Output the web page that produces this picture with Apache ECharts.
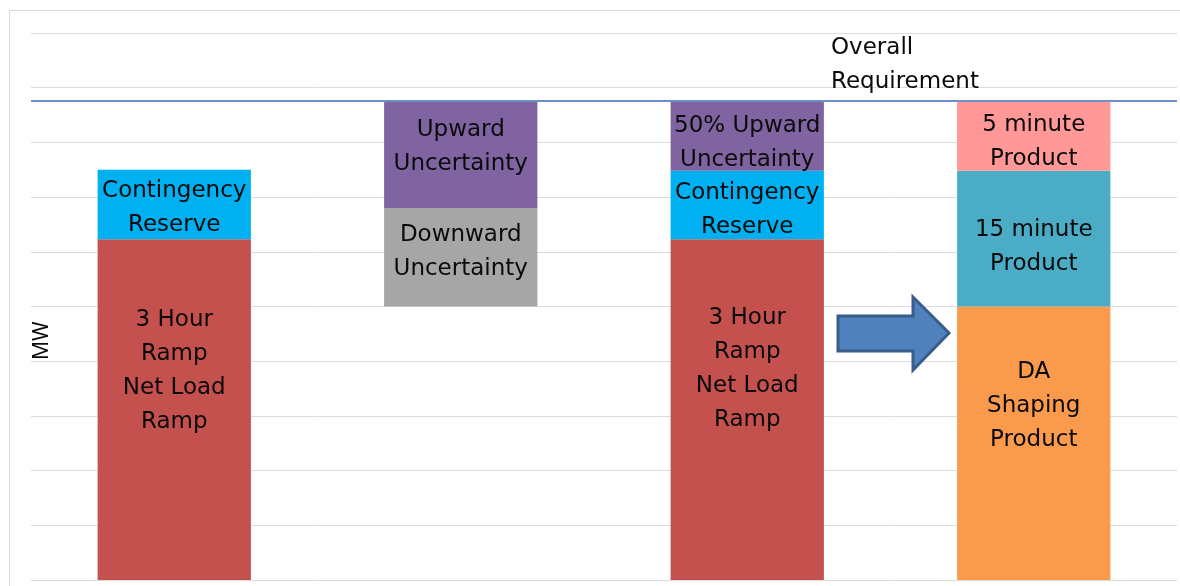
<!DOCTYPE html>
<html>
<head>
<meta charset="utf-8">
<script src="https://cdn.jsdelivr.net/npm/echarts@6/dist/echarts.min.js"></script>
<style>
  html, body { margin: 0; padding: 0; background: #fff; }
  #chart { width: 1180px; height: 586px; }
</style>
</head>
<body>
<div id="chart"></div>
<script>
// columns of the reserve build-up
const categories = ['Ramp + Contingency', 'Uncertainty', 'Requirement', 'Products'];

const baseValues        = [0, 5.0, 0, 0];          // hidden offset
const rampValues        = [6.23, null, 6.23, null];
const daShapingValues   = [null, null, null, 5.0];
const downwardValues    = [null, 1.8, null, null];
const contingencyValues = [1.27, null, 1.25, null];
const fifteenMinValues  = [null, null, null, 2.48];
const upwardValues      = [null, 1.96, 1.28, null];
const fiveMinValues     = [null, null, null, 1.28];

const overallRequirement = 8.76;

const rampLabels        = ['3 Hour\nRamp\nNet Load\nRamp', '', '3 Hour\nRamp\nNet Load\nRamp', ''];
const daShapingLabels   = ['', '', '', 'DA\nShaping\nProduct'];
const downwardLabels    = ['', 'Downward\nUncertainty', '', ''];
const contingencyLabels = ['Contingency\nReserve', '', 'Contingency\nReserve', ''];
const fifteenMinLabels  = ['', '', '', '15 minute\nProduct'];
const upwardLabels      = ['', 'Upward\nUncertainty', '50% Upward\nUncertainty', ''];
const fiveMinLabels     = ['', '', '', '5 minute\nProduct'];

const chart = echarts.init(document.getElementById('chart'));
const FONT = 'DejaVu Sans';
const TEXT = '#0a0a0a';

// offsetY: one vertical label nudge per column
function seg(name, values, labels, color, offsetY) {
  return {
    name: name,
    type: 'bar',
    stack: 'total',
    barWidth: '53.5%',
    data: values.map((v, i) => ({
      value: v,
      label: { offset: [0, offsetY[i] || 0] }
    })),
    itemStyle: { color: color },
    label: {
      show: true,
      position: 'inside',
      color: TEXT,
      fontFamily: FONT,
      fontSize: 23,
      lineHeight: 34,
      formatter: p => labels[p.dataIndex]
    }
  };
}

const option = {
  animation: false,
  grid: { left: 31, right: 3, top: 33, bottom: 6, containLabel: false, outerBoundsMode: 'none' },
  xAxis: {
    type: 'category',
    data: categories,
    axisLine: { show: false },
    axisTick: { show: false },
    axisLabel: { show: false }
  },
  yAxis: {
    type: 'value',
    min: 0,
    max: 10,
    interval: 1,
    axisLabel: { show: false },
    axisLine: { show: false },
    axisTick: { show: false },
    splitLine: { lineStyle: { color: '#dcdcdc', width: 1 } }
  },
  series: [
    {
      name: 'base', type: 'bar', stack: 'total', barWidth: '53.5%',
      data: baseValues, itemStyle: { color: 'transparent' }, silent: true
    },
    seg('3 Hour Ramp', rampValues, rampLabels, '#C4514D', [-39, 0, -41, 0]),
    seg('DA Shaping Product', daShapingValues, daShapingLabels, '#F99A4C', [0, 0, 0, -37]),
    seg('Downward Uncertainty', downwardValues, downwardLabels, '#A6A6A6', [0, -5, 0, 0]),
    seg('Contingency Reserve', contingencyValues, contingencyLabels, '#00B0F0', [4, 0, 5, 0]),
    seg('15 minute Product', fifteenMinValues, fifteenMinLabels, '#4BACC6', [0, 0, 0, 8]),
    Object.assign(seg('Upward Uncertainty', upwardValues, upwardLabels, '#8064A2', [0, -7, 7, 0]), {
      markLine: {
        silent: true,
        symbol: 'none',
        label: { show: false },
        lineStyle: { color: '#6F8FC8', width: 2, type: 'solid' },
        data: [{ yAxis: overallRequirement }]
      }
    }),
    seg('5 minute Product', fiveMinValues, fiveMinLabels, '#FF9896', [0, 0, 0, 6])
  ],
  graphic: [
    {
      type: 'rect',
      silent: true,
      z: 1,
      shape: { x: 9.5, y: 10.5, width: 1200, height: 600 },
      style: { fill: 'none', stroke: '#d9d9d9', lineWidth: 1 }
    },
    {
      type: 'text',
      z: 100,
      x: 53,
      y: 360,
      rotation: Math.PI / 2,
      style: {
        text: 'MW',
        fontFamily: 'Noto Sans',
        fontSize: 21,
        fill: TEXT,
        align: 'left',
        verticalAlign: 'bottom'
      }
    },
    {
      type: 'text',
      z: 100,
      x: 831,
      y: 31,
      style: {
        text: 'Overall\nRequirement',
        fontFamily: FONT,
        fontSize: 23,
        lineHeight: 34,
        fill: TEXT
      }
    },
    {
      type: 'polygon',
      silent: true,
      z: 100,
      shape: {
        points: [[838, 316], [913, 316], [913, 297], [949, 333], [913, 370], [913, 351], [838, 351]]
      },
      style: { fill: '#4F81BD', stroke: '#385D8A', lineWidth: 3 }
    }
  ]
};

chart.setOption(option);
</script>
</body>
</html>
